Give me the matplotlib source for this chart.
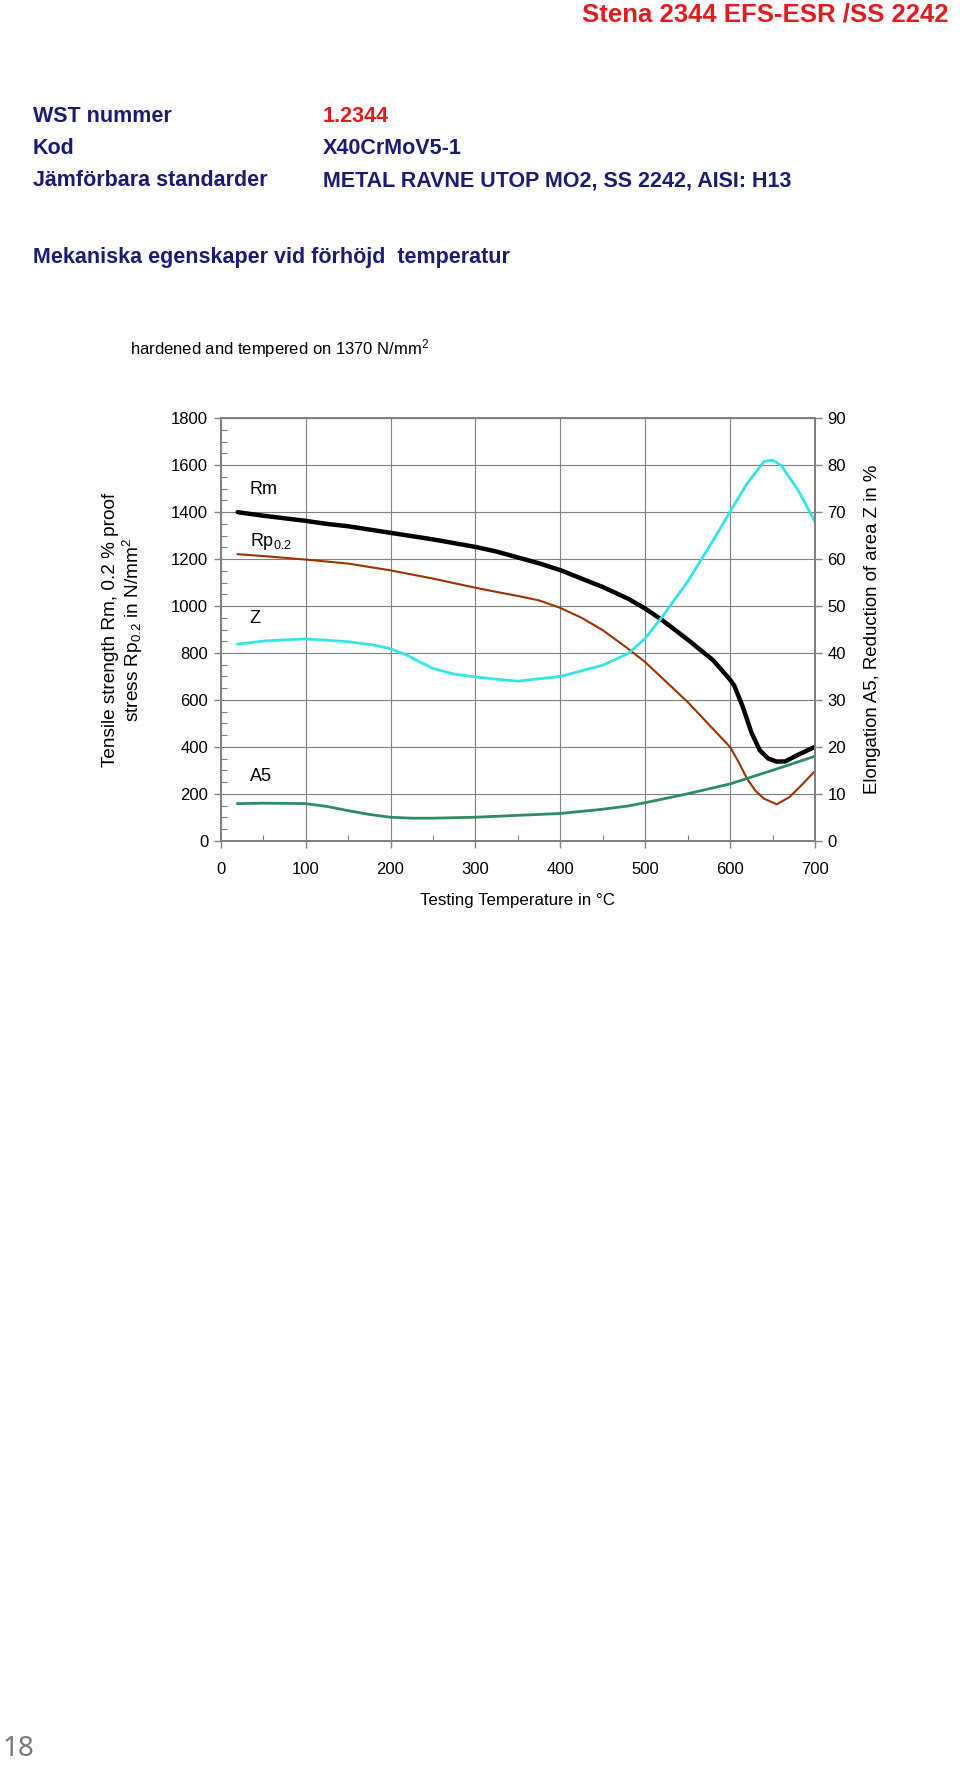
import numpy as np
import matplotlib
matplotlib.use('Agg')
import matplotlib.pyplot as plt
from matplotlib.ticker import MultipleLocator

# data
temp_rm = [20, 50, 100, 125, 150, 200, 250, 300, 325, 350, 375, 400, 450, 480, 500, 520, 550, 580, 600, 605, 615, 625, 635, 645, 655, 665, 680, 700]
rm = [1400, 1385, 1363, 1350, 1340, 1312, 1284, 1252, 1232, 1207, 1182, 1153, 1081, 1031, 989, 940, 857, 769, 686, 660, 570, 462, 385, 350, 337, 338, 366, 400]

temp_rp = [20, 50, 100, 150, 200, 250, 300, 325, 350, 375, 400, 425, 450, 480, 500, 550, 600, 610, 620, 630, 640, 655, 670, 685, 700]
rp = [1221, 1213, 1198, 1181, 1152, 1117, 1078, 1060, 1043, 1024, 992, 950, 897, 818, 761, 591, 399, 335, 264, 212, 179, 155, 186, 240, 297]

temp_z = [20, 54, 100, 150, 180, 200, 220, 230, 250, 275, 300, 325, 350, 400, 450, 480, 500, 520, 550, 580, 600, 620, 640, 650, 660, 680, 700]
z = [41.9, 42.6, 43.0, 42.4, 41.7, 40.9, 39.5, 38.5, 36.7, 35.5, 34.9, 34.4, 34.0, 35.0, 37.4, 39.9, 43.1, 47.7, 55.2, 64.0, 70.1, 76.1, 80.8, 81.1, 80.0, 74.7, 68.0]

temp_a5 = [20, 50, 100, 125, 150, 175, 200, 225, 250, 300, 350, 400, 450, 480, 500, 550, 600, 650, 700]
a5 = [7.9, 8.0, 7.9, 7.3, 6.4, 5.6, 5.0, 4.8, 4.8, 5.0, 5.4, 5.8, 6.7, 7.4, 8.1, 10.0, 12.1, 15.0, 18.0]

x_ticks = [0, 100, 200, 300, 400, 500, 600, 700]
left_ticks = [0, 200, 400, 600, 800, 1000, 1200, 1400, 1600, 1800]
right_ticks = [0, 10, 20, 30, 40, 50, 60, 70, 80, 90]

plt.rcParams['font.family'] = ['Liberation Sans', 'DejaVu Sans']
plt.rcParams['mathtext.fontset'] = 'custom'
plt.rcParams['mathtext.rm'] = 'Liberation Sans'
plt.rcParams['mathtext.it'] = 'Liberation Sans'

W, H = 960, 1771
fig = plt.figure(figsize=(W / 100, H / 100), dpi=100)

def px(x, y):
    return x / W, 1 - y / H

navy = '#1b1b6f'
red = '#e01b22'

# page header
fig.text(*px(949, 14), 'Stena 2344 EFS-ESR /SS 2242', color=red, fontsize=18.5, fontweight='bold',
         ha='right', va='center')
rows = [('WST nummer', '1.2344', red, 117), ('Kod', 'X40CrMoV5-1', navy, 149),
        ('Jämförbara standarder', 'METAL RAVNE UTOP MO2, SS 2242, AISI: H13', navy, 181)]
for lab, val, c, yy in rows:
    fig.text(*px(33, yy), lab, color=navy, fontsize=15.5, fontweight='bold', va='center')
    fig.text(*px(323, yy), val, color=c, fontsize=15.5, fontweight='bold', va='center')
fig.text(*px(33, 258), 'Mekaniska egenskaper vid förhöjd  temperatur', color=navy, fontsize=15.5,
         fontweight='bold', va='center')
fig.text(*px(130, 349), 'hardened and tempered on 1370 N/mm$^{2}$', color='black', fontsize=12,
         va='center')
fig.text(*px(3, 1749), '18', color='#777777', fontsize=20, family='Noto Sans', va='center')

# chart
ax = fig.add_axes([220.7 / W, 1 - 840.7 / H, (815 - 220.7) / W, (840.7 - 418.3) / H])
ax2 = ax.twinx()

ax.plot(temp_rm, rm, color='black', lw=3.2, solid_capstyle='round', solid_joinstyle='round', zorder=4)
ax.plot(temp_rp, rp, color='#993300', lw=1.5, solid_joinstyle='round', zorder=3)
ax2.plot(temp_z, z, color='#33e5e5', lw=2.0, solid_joinstyle='round')
ax2.plot(temp_a5, a5, color='#2e8b64', lw=2.0, solid_joinstyle='round')

ax.set_xlim(0, 700)
ax.set_ylim(0, 1800)
ax2.set_ylim(0, 90)
ax.set_xticks(x_ticks)
ax.set_yticks(left_ticks)
ax2.set_yticks(right_ticks)
ax.xaxis.set_minor_locator(MultipleLocator(50))
ax.yaxis.set_minor_locator(MultipleLocator(50))
ax.grid(True, which='major', color='#808080', lw=0.8)
ax.set_axisbelow(True)

for a in (ax, ax2):
    for s in a.spines.values():
        s.set_color('#808080')
        s.set_linewidth(1.4)
ax.spines['top'].set_linewidth(0.8)
ax.tick_params(which='major', length=5, width=1, color='#808080', labelsize=12, pad=4)
ax.tick_params(axis='x', which='major', pad=10.5)
ax.tick_params(which='minor', length=4, width=0.8, color='#808080', direction='in')
ax2.tick_params(which='major', length=5, width=1, color='#808080', labelsize=12, pad=4)

ax.set_xlabel('Testing Temperature in °C', fontsize=12.2, labelpad=11)
ax.set_ylabel('Tensile strength Rm, 0.2 % proof\nstress Rp$_{0.2}$ in N/mm$^{2}$', fontsize=13.7,
              labelpad=19, linespacing=1.1)
ax2.set_ylabel('Elongation A5, Reduction of area Z in %', fontsize=13.4, rotation=90, labelpad=13)

ax.text(34, 1495, 'Rm', fontsize=13, va='center')
ax.text(34, 1274, 'Rp$_{0.2}$', fontsize=13, va='center')
ax.text(34, 947, 'Z', fontsize=13, va='center')
ax.text(34, 272, 'A5', fontsize=13, va='center')

fig.savefig('out.png', dpi=100)
